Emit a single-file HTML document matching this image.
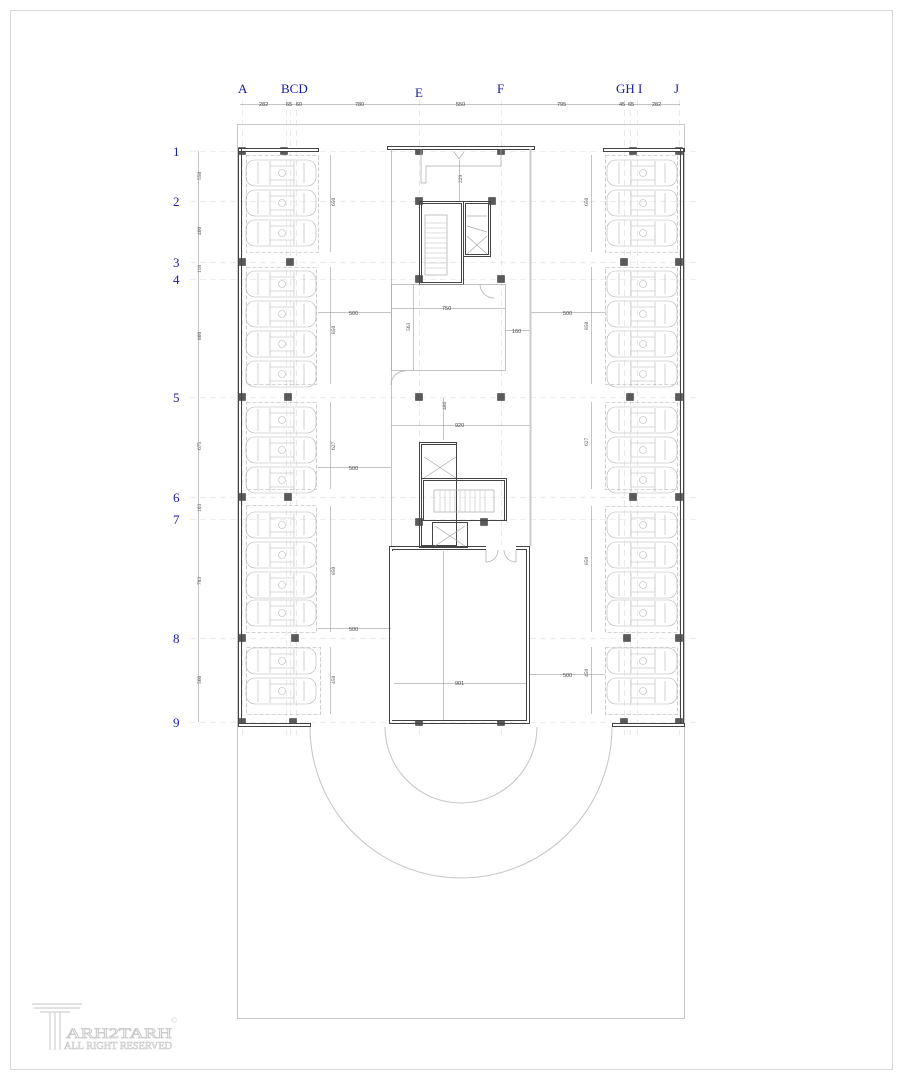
<!DOCTYPE html>
<html><head><meta charset="utf-8"><style>
html,body{margin:0;padding:0;background:#fff;width:903px;height:1080px;overflow:hidden}
svg{display:block}
text{font-family:"Liberation Serif",serif}
.lab{fill:#1a1aa0;font-size:13px}
.dim{fill:#444;font-size:5.5px;font-family:"Liberation Sans",sans-serif}
</style></head><body>
<svg id="s" width="903" height="1080" viewBox="0 0 903 1080" xmlns="http://www.w3.org/2000/svg">
<rect x="10.5" y="10.5" width="882" height="1059" fill="none" stroke="#d8d8d8"/>
<rect x="237.5" y="124.5" width="447" height="894" fill="none" stroke="#c8c8c8"/>
<g id="grid" stroke="#ddd" stroke-dasharray="6,4" stroke-width="0.6"></g>
<path d="M385 727 A76 76 0 0 0 537 727" fill="none" stroke="#c4c4c4"/>
<path d="M310 727 A151 151 0 0 0 612 727" fill="none" stroke="#c4c4c4"/>
<g id="g"></g>
<text class="lab" x="238" y="93">A</text>
<text class="lab" x="281" y="93">BCD</text>
<text class="lab" x="415" y="97">E</text>
<text class="lab" x="497" y="93">F</text>
<text class="lab" x="616" y="93">GH I</text>
<text class="lab" x="674" y="93">J</text>
<text class="lab" x="173" y="156">1</text>
<text class="lab" x="173" y="206">2</text>
<text class="lab" x="173" y="267">3</text>
<text class="lab" x="173" y="284">4</text>
<text class="lab" x="173" y="402">5</text>
<text class="lab" x="173" y="502">6</text>
<text class="lab" x="173" y="524">7</text>
<text class="lab" x="173" y="643">8</text>
<text class="lab" x="173" y="727">9</text>
<line x1="240" y1="104.5" x2="680" y2="104.5" stroke="#888" stroke-width="0.5"/>
<text class="dim" x="259" y="106">282</text><text class="dim" x="286" y="106">65</text><text class="dim" x="296" y="106">60</text>
<text class="dim" x="355" y="106">780</text><text class="dim" x="456" y="106">550</text><text class="dim" x="557" y="106">795</text>
<text class="dim" x="619" y="106">45</text><text class="dim" x="628" y="106">65</text><text class="dim" x="652" y="106">282</text>
<line x1="198.5" y1="151" x2="198.5" y2="722" stroke="#888" stroke-width="0.5"/>
<g class="dim" transform="rotate(-90)">
<text x="-180" y="201">550</text><text x="-235" y="201">400</text><text x="-273" y="201">118</text><text x="-340" y="201">800</text>
<text x="-450" y="201">675</text><text x="-512" y="201">163</text><text x="-585" y="201">783</text><text x="-684" y="201">560</text>
<text x="-206" y="335">650</text><text x="-334" y="335">850</text><text x="-450" y="335">627</text><text x="-575" y="335">850</text><text x="-684" y="335">450</text>
<text x="-206" y="588">650</text><text x="-330" y="588">850</text><text x="-446" y="588">627</text><text x="-565" y="588">850</text><text x="-677" y="588">450</text>
<text x="-183" y="462">229</text><text x="-331" y="410">563</text><text x="-410" y="446">486</text><text x="-650" y="444">1176</text>
</g>
<g stroke="#888" stroke-width="0.5">
<line x1="330.5" y1="155" x2="330.5" y2="252"/><line x1="330.5" y1="267" x2="330.5" y2="384"/><line x1="330.5" y1="402" x2="330.5" y2="489"/><line x1="330.5" y1="506" x2="330.5" y2="632"/><line x1="330.5" y1="647" x2="330.5" y2="714"/>
<line x1="591.5" y1="155" x2="591.5" y2="252"/><line x1="591.5" y1="267" x2="591.5" y2="384"/><line x1="591.5" y1="402" x2="591.5" y2="489"/><line x1="591.5" y1="506" x2="591.5" y2="632"/><line x1="591.5" y1="647" x2="591.5" y2="714"/>
<line x1="318" y1="312.5" x2="391" y2="312.5"/><line x1="318" y1="467.5" x2="391" y2="467.5"/><line x1="318" y1="628.5" x2="391" y2="628.5"/>
<line x1="530" y1="312.5" x2="605" y2="312.5"/><line x1="530" y1="674.5" x2="605" y2="674.5"/>
<line x1="391" y1="308.5" x2="505" y2="308.5"/><line x1="505" y1="330.5" x2="530" y2="330.5"/>
<line x1="391" y1="425.5" x2="530" y2="425.5"/>
<line x1="413.5" y1="284" x2="413.5" y2="370"/><line x1="443.5" y1="398" x2="443.5" y2="440"/><line x1="459.5" y1="160" x2="459.5" y2="201"/>
</g>
<text class="dim" x="349" y="315">500</text><text class="dim" x="349" y="470">500</text><text class="dim" x="349" y="631">500</text>
<text class="dim" x="563" y="315">500</text><text class="dim" x="563" y="677">500</text>
<text class="dim" x="442" y="310">750</text><text class="dim" x="512" y="333">160</text><text class="dim" x="455" y="427">920</text>
<g fill="none" stroke="#444" stroke-width="1">
<rect x="238.5" y="148.5" width="80" height="3" fill="#fff"/>
<rect x="603.5" y="148.5" width="81" height="3" fill="#fff"/>
<rect x="238.5" y="148.5" width="3" height="578"/>
<rect x="680.5" y="148.5" width="3" height="578"/>
<rect x="238.5" y="723.5" width="72" height="3" fill="#fff"/>
<rect x="612.5" y="723.5" width="72" height="3" fill="#fff"/>
<rect x="387.5" y="146.5" width="147" height="3" fill="#fff"/>
<rect x="419.5" y="201.5" width="44" height="83"/><rect x="421.5" y="203.5" width="40" height="79"/>
<rect x="463.5" y="201.5" width="27" height="55"/><rect x="465.5" y="203.5" width="23" height="51"/>
<rect x="419.5" y="442.5" width="37" height="105"/><rect x="421.5" y="444.5" width="35" height="101"/>
<rect x="421.5" y="478.5" width="85" height="42"/><rect x="423.5" y="480.5" width="81" height="40"/>
<rect x="432.5" y="522.5" width="35" height="25"/>
<rect x="389.5" y="546.5" width="140" height="177"/><rect x="392.5" y="549.5" width="134" height="171"/>
</g>
<rect x="392" y="551" width="134" height="169" fill="#fff"/>
<line x1="443.5" y1="551" x2="443.5" y2="720" stroke="#888" stroke-width="0.5"/>
<line x1="394" y1="683.5" x2="526" y2="683.5" stroke="#888" stroke-width="0.5"/>
<rect x="486" y="545" width="30" height="6" fill="#fff"/>
<text class="dim" x="455" y="685">901</text>
<g fill="none" stroke="#aaa" stroke-width="0.7">
<line x1="391.5" y1="149" x2="391.5" y2="546"/><line x1="530.5" y1="149" x2="530.5" y2="546" stroke-width="2" stroke="#ccc"/>
<rect x="391.5" y="284.5" width="114" height="86"/>
<path d="M421 149 V183 H426 V166 H501 V149"/>
<path d="M454 152 L459 159 L464 152"/>
<rect x="425" y="215" width="22" height="60"/>
<path d="M467 216 L487 216 M467 226 L487 232 M467 236 L487 254 M487 236 L467 254"/>
<path d="M424 457 L456 478 M456 457 L424 478"/>
<path d="M435 526 L465 546 M465 526 L435 546"/>
<path d="M480 284 A14 14 0 0 0 494 298"/><path d="M391 385 A14 14 0 0 1 405 371"/>
<path d="M486 550 V562 A12 12 0 0 0 498 550 M516 550 V562 A12 12 0 0 1 504 550"/>
<rect x="434" y="490" width="60" height="22"/>
</g>
<g id="stairs" stroke="#bbb" stroke-width="0.5"></g>
<g fill="none" stroke="#d0d0d0" stroke-width="1.2">
<path d="M32 1004 H82 M34 1008 H80 M40 1012 H70 M50 1012 V1050 M55 1012 V1050 M60 1012 V1050"/>
</g>
<text x="66" y="1038" font-family="Liberation Sans,sans-serif" font-size="15" fill="#fff" stroke="#c8c8c8" stroke-width="0.8" textLength="106" lengthAdjust="spacingAndGlyphs">ARH2TARH</text>
<text x="64" y="1049" font-family="Liberation Sans,sans-serif" font-size="10" fill="#fff" stroke="#c8c8c8" stroke-width="0.6" textLength="108" lengthAdjust="spacingAndGlyphs">ALL RIGHT RESERVED</text>
<text x="171" y="1023" font-family="Liberation Sans,sans-serif" font-size="8" fill="#ccc">©</text>
</svg>
<script>
var NS="http://www.w3.org/2000/svg",g=document.getElementById('g'),gr=document.getElementById('grid');
function el(p,t,a){var e=document.createElementNS(NS,t);for(var k in a)e.setAttribute(k,a[k]);p.appendChild(e);return e;}
[242,286,290,296,419,501,624,630,637,679].forEach(function(x){el(gr,'line',{x1:x+.5,y1:100,x2:x+.5,y2:735});});
[151,201,262,279,397,497,519,638,722].forEach(function(y){el(gr,'line',{x1:190,y1:y+.5,x2:700,y2:y+.5});});
var boxes=[[246,155,318,252],[246,267,316,384],[246,402,316,489],[246,505,316,632],[246,647,320,714],
[605,155,677,252],[605,267,677,384],[605,402,677,489],[605,506,677,632],[605,647,677,714]];
boxes.forEach(function(b){el(g,'rect',{x:b[0]+.5,y:b[1]+.5,width:b[2]-b[0],height:b[3]-b[1],fill:'none',stroke:'#aaa','stroke-dasharray':'4,2','stroke-width':.6});});
function car(cx,cy){var x=cx-35,y=cy-13;var s={fill:'none',stroke:'#b5b5b5','stroke-width':.6};
el(g,'rect',Object.assign({x:x,y:y,width:70,height:26,rx:9},s));
el(g,'path',Object.assign({d:'M'+(x+12)+' '+(y+2)+' V'+(y+24)+' M'+(x+24)+' '+(y+1)+' V'+(y+25)+' M'+(x+48)+' '+(y+1)+' V'+(y+25)+' M'+(x+58)+' '+(y+3)+' V'+(y+23)+' M'+(x+24)+' '+(y+6)+' H'+(x+48)+' M'+(x+24)+' '+(y+20)+' H'+(x+48)},s));
el(g,'circle',Object.assign({cx:x+36,cy:cy,r:3.5},s));}
[173,203,233,284,314,344,374,420,450,480,525,555,585,613,661,691].forEach(function(y){car(281,y);car(642,y);});
var cols=[[242,151],[284,151],[242,262],[290,262],[242,397],[288,397],[242,497],[288,497],[242,638],[295,638],[242,722],[293,722],
[419,151],[501,151],[419,201],[492,201],[419,279],[501,279],[419,397],[501,397],[419,522],[484,522],[419,638],[501,638],[419,722],[501,722],
[633,151],[679,151],[624,262],[679,262],[630,397],[679,397],[633,497],[679,497],[627,638],[679,638],[624,722],[679,722]];
cols.forEach(function(c){el(g,'rect',{x:c[0]-3.5,y:c[1]-3.5,width:7,height:7,fill:'#5a5a5a',stroke:'#333','stroke-width':.5});});
var st=document.getElementById('stairs');
for(var i=0;i<10;i++){el(st,'line',{x1:425,y1:223+i*5,x2:447,y2:223+i*5});}
for(var j=0;j<10;j++){el(st,'line',{x1:440+j*5,y1:490,x2:440+j*5,y2:512});}
</script>
</body></html>
